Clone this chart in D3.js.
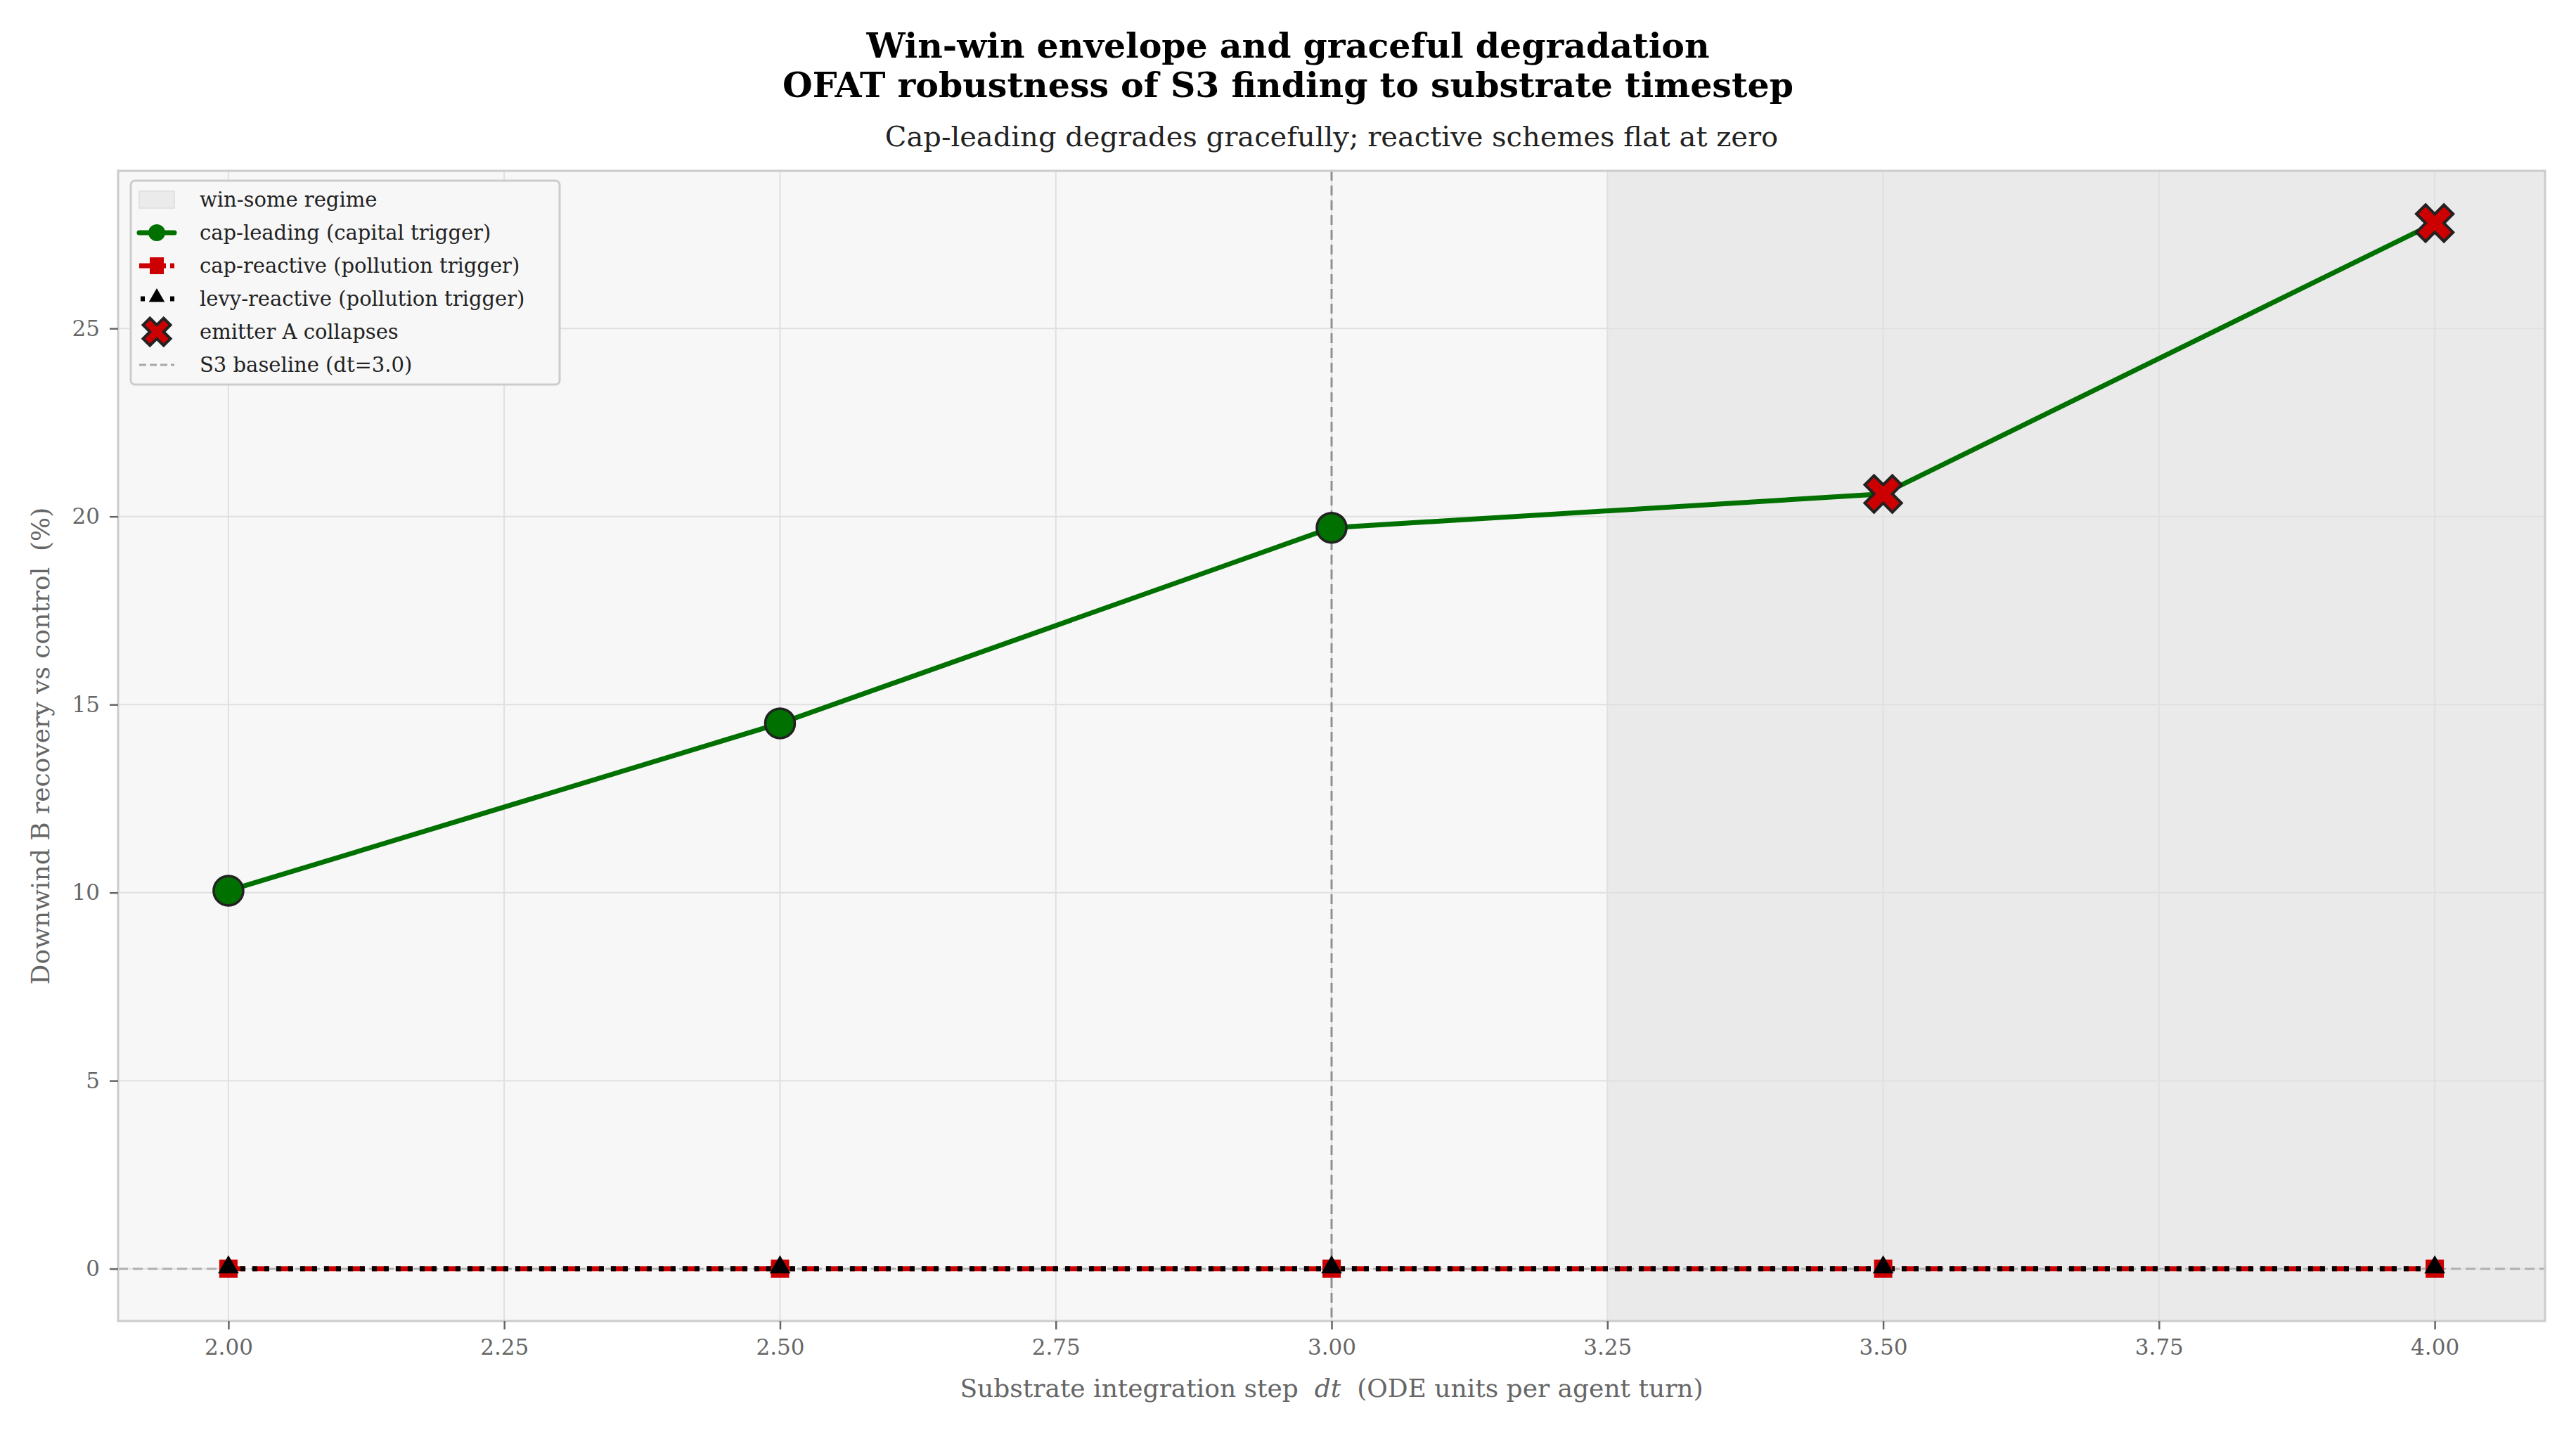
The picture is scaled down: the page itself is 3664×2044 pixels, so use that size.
<!DOCTYPE html>
<html lang="en">
<head>
<meta charset="UTF-8">
<title>Win-win envelope</title>
<script src="https://d3js.org/d3.v7.min.js"></script>
<style>
  body { margin: 0; background: #fff; font-family: "DejaVu Serif", serif; }
  text { white-space: pre; }
</style>
</head>
<body>
<svg id="chart" width="3664" height="2044"></svg>
<script>
const dtValues = [2.0, 2.5, 3.0, 3.5, 4.0];
const capLeading = [10.05, 14.5, 19.7, 20.6, 27.8];
const capReactive = [0, 0, 0, 0, 0];
const levyReactive = [0, 0, 0, 0, 0];
const collapsed = [false, false, false, true, true];
const xTicks = [2.00, 2.25, 2.50, 2.75, 3.00, 3.25, 3.50, 3.75, 4.00];
const yTicks = [0, 5, 10, 15, 20, 25];
const winSomeStart = 3.25;
const baselineDt = 3.0;

const svg = d3.select("#chart");
const m = { left: 168, right: 3620, top: 243, bottom: 1879 };
const x = d3.scaleLinear().domain([1.9, 4.1]).range([m.left, m.right]);
const y = d3.scaleLinear().domain([-1.39, 29.19]).range([m.bottom, m.top]);

// titles
svg.append("text").attr("x", 1832).attr("y", 82).attr("text-anchor", "middle")
  .attr("font-size", 49).attr("font-weight", "bold").text("Win-win envelope and graceful degradation");
svg.append("text").attr("x", 1832).attr("y", 138).attr("text-anchor", "middle")
  .attr("font-size", 49).attr("font-weight", "bold").text("OFAT robustness of S3 finding to substrate timestep");
svg.append("text").attr("x", 1894).attr("y", 208).attr("text-anchor", "middle")
  .attr("font-size", 40).attr("fill", "#222").text("Cap-leading degrades gracefully; reactive schemes flat at zero");

// background
svg.append("rect").attr("x", m.left).attr("y", m.top).attr("width", m.right - m.left)
  .attr("height", m.bottom - m.top).attr("fill", "#f7f7f7");
svg.append("rect").attr("x", x(winSomeStart)).attr("y", m.top).attr("width", m.right - x(winSomeStart))
  .attr("height", m.bottom - m.top).attr("fill", "#eaeaea");

// grid
svg.append("g").selectAll("line").data(xTicks).join("line")
  .attr("x1", d => x(d)).attr("x2", d => x(d)).attr("y1", m.top).attr("y2", m.bottom)
  .attr("stroke", "#e0e0e0").attr("stroke-width", 2);
svg.append("g").selectAll("line").data(yTicks).join("line")
  .attr("x1", m.left).attr("x2", m.right).attr("y1", d => y(d)).attr("y2", d => y(d))
  .attr("stroke", "#e0e0e0").attr("stroke-width", 2);

// reference lines
svg.append("line").attr("x1", m.left).attr("x2", m.right).attr("y1", y(0)).attr("y2", y(0))
  .attr("stroke", "#b0b0b0").attr("stroke-width", 3).attr("stroke-dasharray", "14,7");
svg.append("line").attr("x1", x(baselineDt)).attr("x2", x(baselineDt)).attr("y1", m.top).attr("y2", m.bottom)
  .attr("stroke", "#909090").attr("stroke-width", 3).attr("stroke-dasharray", "14,7");

// frame
svg.append("rect").attr("x", m.left).attr("y", m.top).attr("width", m.right - m.left)
  .attr("height", m.bottom - m.top).attr("fill", "none").attr("stroke", "#cccccc").attr("stroke-width", 3);

// axes
const xAxis = svg.append("g").attr("transform", `translate(0,${m.bottom})`)
  .call(d3.axisBottom(x).tickValues(xTicks).tickFormat(d3.format(".2f")).tickSize(12).tickPadding(14));
const yAxis = svg.append("g").attr("transform", `translate(${m.left},0)`)
  .call(d3.axisLeft(y).tickValues(yTicks).tickSize(12).tickPadding(14));
[xAxis, yAxis].forEach(a => {
  a.select(".domain").remove();
  a.selectAll(".tick line").attr("stroke", "#666").attr("stroke-width", 2.5);
  a.selectAll("text").attr("font-family", "DejaVu Serif").attr("font-size", 31).attr("fill", "#666");
});

svg.append("text").attr("x", (m.left + m.right) / 2).attr("y", 1987).attr("text-anchor", "middle")
  .attr("font-size", 36).attr("fill", "#666")
  .html('Substrate integration step  <tspan font-style="italic">dt</tspan>  (ODE units per agent turn)');
svg.append("text").attr("transform", `translate(70,${(m.top + m.bottom) / 2}) rotate(-90)`)
  .attr("text-anchor", "middle").attr("font-size", 36).attr("fill", "#666")
  .text("Downwind B recovery vs control  (%)");

const line = d3.line().x(d => x(d[0])).y(d => y(d[1]));
const zip = vals => dtValues.map((d, i) => [d, vals[i]]);

// cap-leading
svg.append("path").datum(zip(capLeading)).attr("d", line).attr("fill", "none")
  .attr("stroke", "#007000").attr("stroke-width", 7);
// cap-reactive
svg.append("path").datum(zip(capReactive)).attr("d", line).attr("fill", "none")
  .attr("stroke", "#cc0000").attr("stroke-width", 7).attr("stroke-dasharray", "24,10");
// levy-reactive
svg.append("path").datum(zip(levyReactive)).attr("d", line).attr("fill", "none")
  .attr("stroke", "#000").attr("stroke-width", 7).attr("stroke-dasharray", "7,10");

function drawX(g, cx, cy, s) {
  g.append("path").attr("transform", `translate(${cx},${cy}) rotate(45)`)
    .attr("d", d3.symbol().type(d3.symbolCross).size(s)())
    .attr("fill", "#cc0000").attr("stroke", "#222").attr("stroke-width", 4);
}

// markers
const pts = svg.append("g");
capReactive.forEach((v, i) => {
  pts.append("rect").attr("x", x(dtValues[i]) - 13).attr("y", y(v) - 13).attr("width", 26).attr("height", 26)
    .attr("fill", "#cc0000");
});
levyReactive.forEach((v, i) => {
  pts.append("path").attr("transform", `translate(${x(dtValues[i])},${y(v) - 2})`)
    .attr("d", d3.symbol().type(d3.symbolTriangle).size(380)()).attr("fill", "#000");
});
capLeading.forEach((v, i) => {
  if (collapsed[i]) drawX(pts, x(dtValues[i]), y(v), 1700);
  else pts.append("circle").attr("cx", x(dtValues[i])).attr("cy", y(v)).attr("r", 21)
    .attr("fill", "#007000").attr("stroke", "#222").attr("stroke-width", 3.5);
});

// legend
const lg = svg.append("g").attr("transform", "translate(186,257)");
lg.append("rect").attr("width", 610).attr("height", 290).attr("rx", 6)
  .attr("fill", "#f7f7f7").attr("stroke", "#cccccc").attr("stroke-width", 3);
const labels = ["win-some regime", "cap-leading (capital trigger)", "cap-reactive (pollution trigger)",
  "levy-reactive (pollution trigger)", "emitter A collapses", "S3 baseline (dt=3.0)"];
const rowY = i => 27 + i * 47;
labels.forEach((t, i) => {
  lg.append("text").attr("x", 98).attr("y", rowY(i) + 10).attr("font-size", 29).attr("fill", "#222").text(t);
});
lg.append("rect").attr("x", 12).attr("y", rowY(0) - 12).attr("width", 50).attr("height", 24)
  .attr("fill", "#ebebeb").attr("stroke", "#e2e2e2").attr("stroke-width", 2);
lg.append("line").attr("x1", 12).attr("x2", 62).attr("y1", rowY(1)).attr("y2", rowY(1))
  .attr("stroke", "#007000").attr("stroke-width", 7).attr("stroke-linecap", "round");
lg.append("circle").attr("cx", 37).attr("cy", rowY(1)).attr("r", 12).attr("fill", "#007000");
lg.append("line").attr("x1", 12).attr("x2", 62).attr("y1", rowY(2)).attr("y2", rowY(2))
  .attr("stroke", "#cc0000").attr("stroke-width", 7).attr("stroke-dasharray", "16,6");
lg.append("rect").attr("x", 27).attr("y", rowY(2) - 12).attr("width", 20).attr("height", 24).attr("fill", "#cc0000");
lg.append("line").attr("x1", 14).attr("x2", 62).attr("y1", rowY(3)).attr("y2", rowY(3))
  .attr("stroke", "#000").attr("stroke-width", 7).attr("stroke-dasharray", "6,36");
lg.append("path").attr("transform", `translate(37,${rowY(3) - 2})`)
  .attr("d", d3.symbol().type(d3.symbolTriangle).size(220)()).attr("fill", "#000");
drawX(lg, 37, rowY(4), 950);
lg.append("line").attr("x1", 12).attr("x2", 62).attr("y1", rowY(5)).attr("y2", rowY(5))
  .attr("stroke", "#a8a8a8").attr("stroke-width", 3).attr("stroke-dasharray", "10,5");
</script>
</body>
</html>
